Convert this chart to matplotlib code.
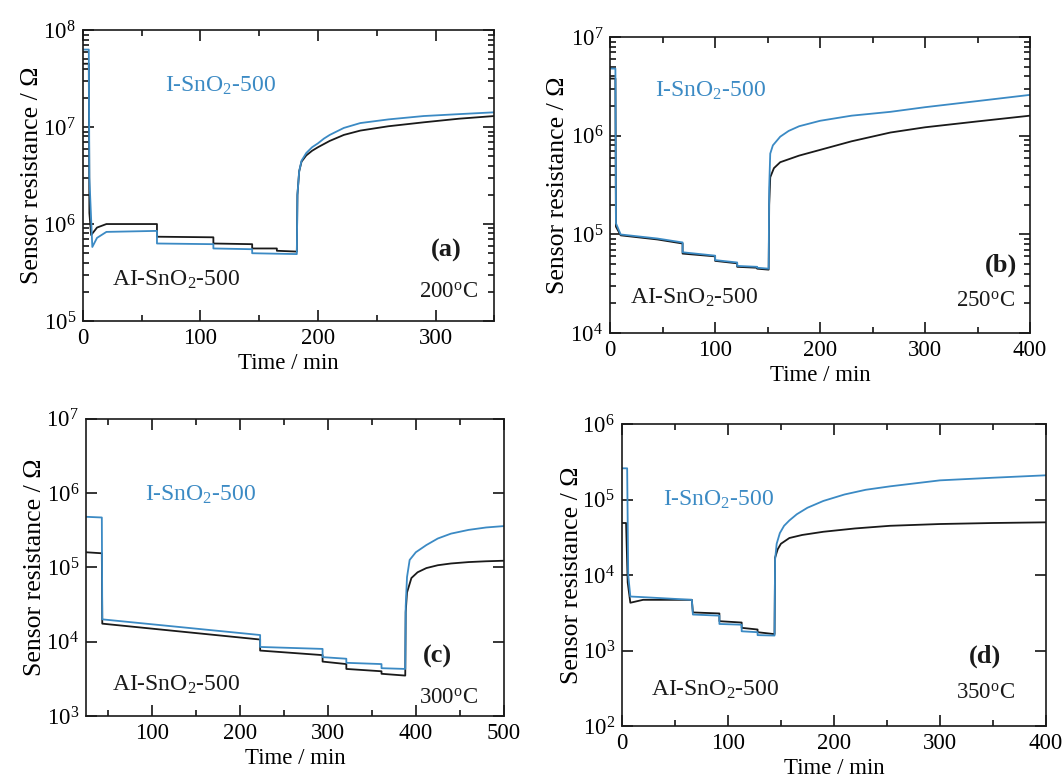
import matplotlib
matplotlib.use('Agg')
from matplotlib import pyplot as plt
from matplotlib.ticker import LogLocator, LogFormatterSciNotation, MultipleLocator, NullLocator, NullFormatter

plt.rcParams['font.family'] = ['Liberation Serif', 'DejaVu Serif']
plt.rcParams['mathtext.fontset'] = 'custom'
plt.rcParams['mathtext.rm'] = 'Liberation Serif'
plt.rcParams['mathtext.it'] = 'Liberation Serif:italic'
plt.rcParams['mathtext.bf'] = 'Liberation Serif:bold'

AZUL = '#3b8ac4'
NEGRO = '#1a1a1a'

# (a) 200 C
a_t_i = [0, 5, 5.5, 8, 12, 20, 63, 63, 111, 111, 144, 144, 182, 182.5, 184, 186, 190, 195, 200, 205, 210, 222, 236, 260, 290, 320, 350]
a_r_i = [6.3e7, 6.3e7, 3e6, 5.8e5, 7.2e5, 8.3e5, 8.5e5, 6.3e5, 6.2e5, 5.6e5, 5.5e5, 5.0e5, 4.9e5, 2e6, 3.5e6, 4.5e6, 5.4e6, 6.2e6, 6.8e6, 7.6e6, 8.3e6, 9.8e6, 1.1e7, 1.2e7, 1.3e7, 1.36e7, 1.42e7]
a_t_ai = [0, 5, 5.5, 7, 12, 20, 63, 63, 111, 111, 144, 144, 165, 165, 182, 182.5, 184, 186, 190, 195, 200, 210, 222, 236, 260, 290, 320, 350]
a_r_ai = [4.5e7, 4.5e7, 1.3e6, 7.7e5, 9.2e5, 1.0e6, 1.0e6, 7.4e5, 7.3e5, 6.3e5, 6.2e5, 5.6e5, 5.6e5, 5.3e5, 5.2e5, 2e6, 3.5e6, 4.4e6, 5.1e6, 5.7e6, 6.2e6, 7.2e6, 8.3e6, 9.2e6, 1.02e7, 1.12e7, 1.22e7, 1.3e7]

# (b) 250 C
b_t_i = [0, 5, 5.5, 10, 45, 69, 69, 100, 100, 121, 121, 140, 140, 151, 151.5, 152.5, 155, 162, 170, 180, 200, 230, 267, 300, 350, 400]
b_r_i = [4.8e6, 4.8e6, 1.3e5, 1.0e5, 9.1e4, 8.3e4, 6.6e4, 6.1e4, 5.5e4, 5.2e4, 4.8e4, 4.7e4, 4.6e4, 4.5e4, 3e5, 6.6e5, 8e5, 9.8e5, 1.12e6, 1.25e6, 1.42e6, 1.6e6, 1.75e6, 1.95e6, 2.25e6, 2.6e6]
b_t_ai = [0, 5, 5.5, 10, 45, 69, 69, 100, 100, 121, 121, 140, 140, 151, 151.5, 152.5, 156, 162, 180, 200, 230, 267, 300, 350, 400]
b_r_ai = [3.8e6, 3.8e6, 1.2e5, 9.8e4, 8.9e4, 8.1e4, 6.4e4, 6.0e4, 5.4e4, 5.1e4, 4.7e4, 4.6e4, 4.5e4, 4.4e4, 2e5, 3.8e5, 4.7e5, 5.4e5, 6.3e5, 7.2e5, 8.8e5, 1.08e6, 1.22e6, 1.4e6, 1.6e6]

# (c) 300 C
c_t_i = [25, 43, 43.5, 223, 223, 294, 294, 321, 321, 361, 361, 388, 388.5, 390, 393, 400, 412, 425, 440, 460, 480, 500]
c_r_i = [4.8e5, 4.7e5, 2.0e4, 1.23e4, 8.5e3, 8.0e3, 6.2e3, 5.9e3, 5.2e3, 5.0e3, 4.4e3, 4.3e3, 3e4, 7.4e4, 1.26e5, 1.6e5, 2.0e5, 2.45e5, 2.85e5, 3.2e5, 3.45e5, 3.6e5]
c_t_ai = [25, 43, 43.5, 223, 223, 294, 294, 321, 321, 361, 361, 388, 388.5, 390, 395, 402, 412, 425, 440, 460, 480, 500]
c_r_ai = [1.6e5, 1.55e5, 1.75e4, 1.07e4, 7.6e3, 6.6e3, 5.4e3, 5.0e3, 4.3e3, 4.0e3, 3.7e3, 3.5e3, 2.5e4, 4.6e4, 7.2e4, 8.6e4, 9.8e4, 1.07e5, 1.13e5, 1.18e5, 1.21e5, 1.23e5]

# (d) 350 C
d_t_i = [0, 5, 6, 8, 20, 66, 67, 92, 92, 113, 113, 128, 128, 144, 144.5, 146, 149, 153, 158, 165, 175, 190, 210, 230, 253, 300, 350, 400]
d_r_i = [2.6e5, 2.6e5, 1e4, 5.2e3, 5.1e3, 4.7e3, 3.0e3, 2.9e3, 2.25e3, 2.2e3, 1.8e3, 1.75e3, 1.6e3, 1.58e3, 1.6e4, 2.6e4, 3.6e4, 4.5e4, 5.3e4, 6.4e4, 7.8e4, 9.6e4, 1.17e5, 1.35e5, 1.5e5, 1.8e5, 1.95e5, 2.1e5]
d_t_ai = [0, 4, 5.5, 8, 20, 66, 67, 92, 92, 113, 113, 128, 128, 144, 144.5, 147, 150, 158, 170, 190, 220, 253, 300, 350, 400]
d_r_ai = [4.9e4, 4.9e4, 8e3, 4.3e3, 4.7e3, 4.7e3, 3.2e3, 3.1e3, 2.45e3, 2.35e3, 2.0e3, 1.9e3, 1.75e3, 1.65e3, 1.7e4, 2.2e4, 2.6e4, 3.1e4, 3.4e4, 3.75e4, 4.15e4, 4.5e4, 4.75e4, 4.9e4, 5.0e4]

paneles = [
    # rect, xlim, ylim, menores_y, datos, etiqueta, temp, pos textos, pad etiqueta y
    ([0.078, 0.5895, 0.387, 0.372], (0, 350), (1e5, 1e8), True,
     (a_t_i, a_r_i, a_t_ai, a_r_ai), '(a)', '200', ((0.20, 0.81), (0.07, 0.14), (0.92, 0.244), (0.96, 0.10)), 0),
    ([0.574, 0.574, 0.395, 0.3785], (0, 400), (1e4, 1e7), True,
     (b_t_i, b_r_i, b_t_ai, b_r_ai), '(b)', '250', ((0.107, 0.82), (0.048, 0.118), (0.97, 0.23), (0.964, 0.108)), 1),
    ([0.0809, 0.0844, 0.393, 0.380], (25, 500), (1e3, 1e7), False,
     (c_t_i, c_r_i, c_t_ai, c_r_ai), '(c)', '300', ((0.141, 0.744), (0.062, 0.104), (0.876, 0.20), (0.938, 0.06)), 0),
    ([0.585, 0.0716, 0.399, 0.386], (0, 400), (1e2, 1e6), False,
     (d_t_i, d_r_i, d_t_ai, d_r_ai), '(d)', '350', ((0.097, 0.748), (0.068, 0.12), (0.894, 0.232), (0.927, 0.11)), -1),
]

fig = plt.figure(figsize=(10.63, 7.82), dpi=100)

for rect, xlim, ylim, menores, datos, etiqueta, temp, pos, pad_y in paneles:
    ax = fig.add_axes(rect)
    t_i, r_i, t_ai, r_ai = datos
    ax.plot(t_ai, r_ai, color=NEGRO, lw=1.3)
    ax.plot(t_i, r_i, color=AZUL, lw=1.3)
    ax.set_yscale('log')
    ax.set_xlim(*xlim)
    ax.set_ylim(*ylim)
    ax.yaxis.set_major_locator(LogLocator(base=10, numticks=10))
    ax.yaxis.set_major_formatter(LogFormatterSciNotation())
    if menores:
        ax.yaxis.set_minor_locator(LogLocator(base=10, subs=range(2, 10), numticks=10))
    else:
        ax.yaxis.set_minor_locator(NullLocator())
    ax.yaxis.set_minor_formatter(NullFormatter())
    ax.xaxis.set_major_locator(MultipleLocator(100))
    ax.xaxis.set_minor_locator(MultipleLocator(50))
    ax.tick_params(which='both', direction='in', top=True, right=True, labelsize=16.5, width=1.1)
    ax.tick_params(which='major', length=8, pad=5)
    ax.tick_params(which='minor', length=4)
    for s in ax.spines.values():
        s.set_linewidth(1.2)
        s.set_color(NEGRO)
    ax.set_xlabel('Time / min', fontsize=16.5, labelpad=3)
    ax.set_ylabel('Sensor resistance / \u03a9', fontsize=18.5, labelpad=pad_y)

    ax.text(*pos[0], 'I-SnO$_2$-500', transform=ax.transAxes, color=AZUL, fontsize=17, va='center', ha='left')
    ax.text(*pos[1], 'AI-SnO$_2$-500', transform=ax.transAxes, color=NEGRO, fontsize=17, va='center', ha='left')
    ax.text(*pos[2], etiqueta, transform=ax.transAxes, color=NEGRO, fontsize=19, fontweight='bold', va='center', ha='right')
    ax.text(*pos[3], temp + '$^{\\mathrm{o}}$C', transform=ax.transAxes, color=NEGRO, fontsize=16.5, va='center', ha='right')

plt.savefig('out.png', dpi=100)
